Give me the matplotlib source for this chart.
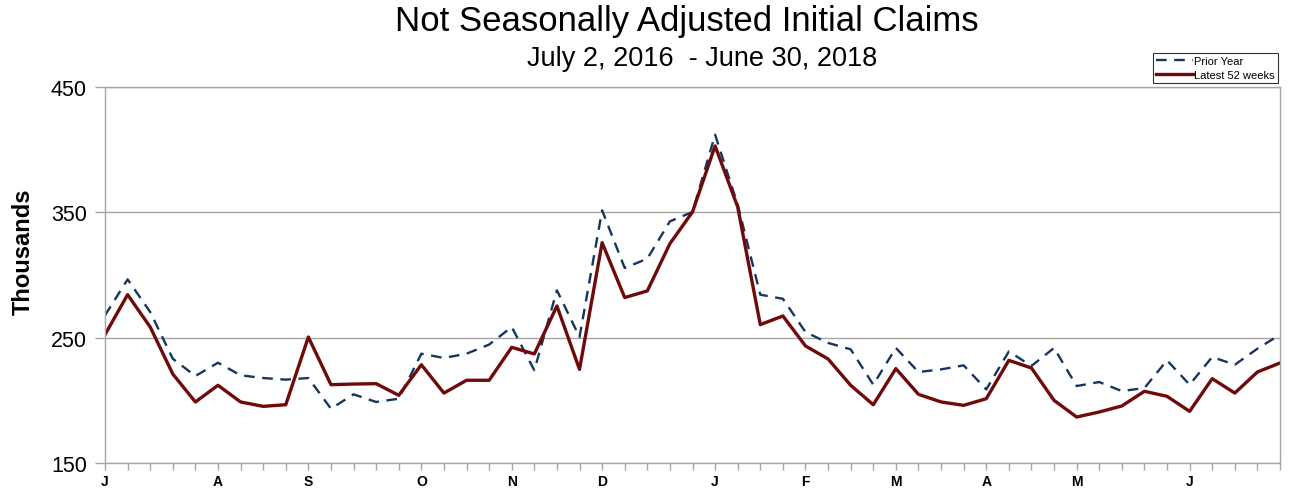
import matplotlib
matplotlib.use("Agg")
import matplotlib.pyplot as plt

plt.rcParams['font.family'] = ['Liberation Sans', 'DejaVu Sans']

latest = [252.4, 284.3, 258.5, 221.0, 198.7, 212.0, 198.7, 195.2, 196.5, 250.5,
          212.5, 213.0, 213.3, 204.0, 228.4, 205.8, 216.0, 216.0, 242.3, 237.0,
          275.3, 224.7, 325.8, 282.0, 287.3, 325.0, 350.3, 403.0, 354.3, 260.4,
          267.3, 243.4, 233.0, 212.0, 196.5, 225.3, 204.8, 198.7, 196.0, 201.3,
          231.9, 225.8, 200.0, 186.7, 190.7, 195.5, 207.2, 203.2, 191.2, 217.3,
          205.8, 222.6, 229.8]
prior = [267.8, 296.5, 270.5, 233.2, 219.4, 230.0, 220.0, 217.8, 216.5, 217.8,
         193.3, 204.8, 198.7, 201.3, 237.2, 233.8, 237.2, 244.5, 258.5, 224.0,
         287.8, 250.5, 351.6, 305.6, 313.0, 342.8, 350.3, 412.0, 356.0, 284.3,
         281.0, 254.5, 245.8, 240.7, 212.5, 241.8, 222.6, 224.7, 227.9, 208.7,
         239.0, 227.4, 241.8, 211.4, 214.6, 207.4, 209.8, 231.9, 212.5, 234.6,
         228.4, 241.2, 252.4]
month_labels = ['J', 'A', 'S', 'O', 'N', 'D', 'J', 'F', 'M', 'A', 'M', 'J']
month_pos = [0, 5, 9, 14, 18, 22, 27, 31, 35, 39, 43, 48]
y_ticks = [150, 250, 350, 450]

fig = plt.figure(figsize=(12.90, 4.89), dpi=100)
ax = fig.add_axes([105/1290, 1 - 464/489, (1280 - 105)/1290, (464 - 88)/489])

x = list(range(len(latest)))
ax.plot(x, prior, color='#17365d', lw=1.7, ls=(0, (4.5, 3.2)), label='Prior Year')
ax.plot(x, latest, color='#6e0a0a', lw=2.4, label='Latest 52 weeks')

ax.set_xlim(0, len(latest) - 1)
ax.set_ylim(150, 450)
ax.set_yticks(y_ticks)
ax.set_yticklabels([str(v) for v in y_ticks], fontsize=15.5)
ax.yaxis.grid(True, color='#a6a6a6', lw=1)
ax.set_axisbelow(True)

ax.set_xticks(x, minor=True)
ax.set_xticks(month_pos)
ax.set_xticklabels(month_labels, fontsize=10, fontweight='bold')
ax.tick_params(axis='x', which='both', length=5, color='#a6a6a6', width=1, pad=3)
ax.tick_params(axis='y', length=7, color='#a6a6a6', width=1, pad=6)

for s in ['left', 'bottom', 'right', 'top']:
    ax.spines[s].set_color('#a6a6a6')
    ax.spines[s].set_linewidth(1)

ax.set_ylabel('Thousands', fontsize=17, fontweight='bold')
ax.yaxis.set_label_coords(-0.060, 0.564)

fig.text(687/1290, 1 - 22/489, 'Not Seasonally Adjusted Initial Claims',
         ha='center', va='center', fontsize=25)
fig.text(702/1290, 1 - 59/489, 'July 2, 2016  - June 30, 2018',
         ha='center', va='center', fontsize=19.5)

leg = fig.legend(loc='upper right', bbox_to_anchor=(1278/1290, 1 - 54/489), fontsize=8,
                 frameon=True, fancybox=False, edgecolor='black', handlelength=3.3,
                 handletextpad=0.1, borderpad=0.3, labelspacing=0.3, borderaxespad=0)
leg.get_frame().set_linewidth(0.8)

fig.savefig('out.png', dpi=100)
